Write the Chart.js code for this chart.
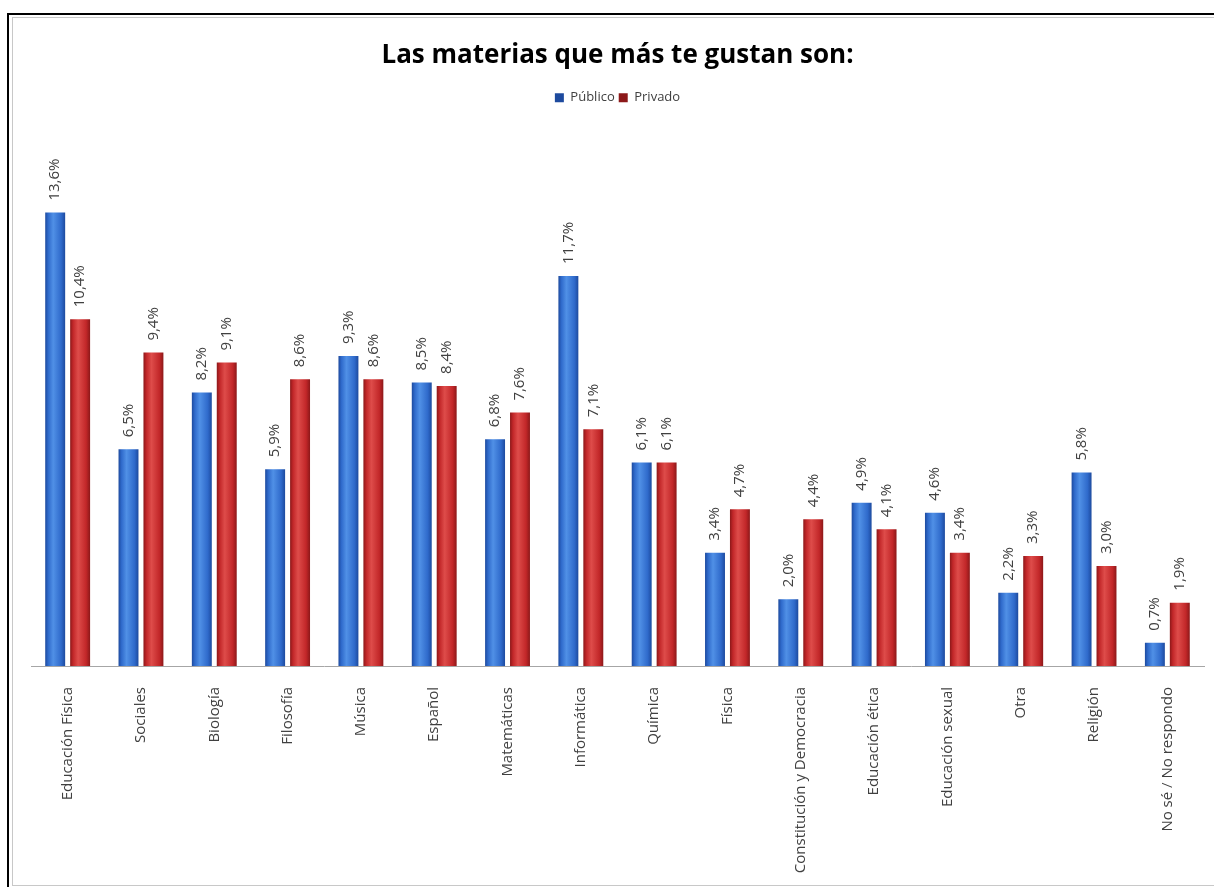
<!DOCTYPE html>
<html>
<head>
<meta charset="utf-8">
<script src="https://cdn.jsdelivr.net/npm/chart.js@4.4.0/dist/chart.umd.min.js"></script>
<style>
html, body { margin: 0; padding: 0; background: #fff; }
#wrap { position: relative; width: 1214px; height: 887px; overflow: hidden; }
#marco { position: absolute; left: 7px; top: 13px; width: 1300px; height: 1000px; border-left: 2px solid #000; border-top: 2px solid #000; }
#interior { position: absolute; left: 12px; top: 17px; width: 1300px; height: 867px; border: 1px solid #c8c8c8; }
canvas { position: absolute; left: 0; top: 0; }
</style>
</head>
<body>
<div id="wrap">
  <div id="marco"></div>
  <div id="interior"></div>
  <canvas id="materiasChart" width="1214" height="887"></canvas>
</div>
<script>
// Datos del gráfico
const categorias = ['Educación Física', 'Sociales', 'Biología', 'Filosofía', 'Música', 'Español',
    'Matemáticas', 'Informática', 'Química', 'Física', 'Constitución y Democracia',
    'Educación ética', 'Educación sexual', 'Otra', 'Religión', 'No sé / No respondo'];
const publico = [13.6, 6.5, 8.2, 5.9, 9.3, 8.5, 6.8, 11.7, 6.1, 3.4, 2.0, 4.9, 4.6, 2.2, 5.8, 0.7];
const privado = [10.4, 9.4, 9.1, 8.6, 8.6, 8.4, 7.6, 7.1, 6.1, 4.7, 4.4, 4.1, 3.4, 3.3, 3.0, 1.9];

const CAT_PCT = 0.68;
const BAR_PCT = 0.8;

// Degradado horizontal para dar efecto cilíndrico a cada barra
function degradado(oscuro, medio, claro, lado) {
    return (c) => {
        const x = c.chart.scales.x;
        if (!x || !c.chart.chartArea) return medio;
        const cat = x.width / categorias.length;
        const slot = cat * CAT_PCT / 2;
        const w = slot * BAR_PCT;
        const cx = x.getPixelForValue(c.dataIndex) + lado * slot / 2;
        const g = c.chart.ctx.createLinearGradient(cx - w / 2, 0, cx + w / 2, 0);
        g.addColorStop(0, oscuro);
        g.addColorStop(0.15, medio);
        g.addColorStop(0.4, claro);
        g.addColorStop(0.8, medio);
        g.addColorStop(1, oscuro);
        return g;
    };
}

// Etiquetas de porcentaje verticales sobre las barras
const etiquetasBarras = {
    id: 'etiquetasBarras',
    afterDatasetsDraw(chart) {
        const ctx = chart.ctx;
        ctx.save();
        ctx.font = '15px "Open Sans"';
        ctx.fillStyle = '#404040';
        ctx.textAlign = 'left';
        ctx.textBaseline = 'middle';
        chart.data.datasets.forEach((ds, i) => {
            chart.getDatasetMeta(i).data.forEach((bar, j) => {
                ctx.save();
                ctx.translate(bar.x, bar.y - 12);
                ctx.rotate(-Math.PI / 2);
                ctx.fillText(ds.data[j].toFixed(1).replace('.', ',') + '%', 0, 0);
                ctx.restore();
            });
        });
        ctx.restore();
    }
};

const ctx = document.getElementById('materiasChart').getContext('2d');
const materiasChart = new Chart(ctx, {
    type: 'bar',
    data: {
        labels: categorias,
        datasets: [
            {
                label: 'Público',
                data: publico,
                backgroundColor: degradado('#1d4a9e', '#2f6acb', '#5090e6', -1),
                borderWidth: 0,
                categoryPercentage: CAT_PCT,
                barPercentage: BAR_PCT
            },
            {
                label: 'Privado',
                data: privado,
                backgroundColor: degradado('#8c1819', '#c22729', '#de4c4a', 1),
                borderWidth: 0,
                categoryPercentage: CAT_PCT,
                barPercentage: BAR_PCT
            }
        ]
    },
    options: {
        responsive: false,
        animation: false,
        layout: {
            padding: { left: 31, right: 10, top: 0, bottom: 0 }
        },
        scales: {
            x: {
                grid: { display: true, drawOnChartArea: false, drawTicks: false },
                border: { display: true, color: '#a6a6a6', width: 1 },
                ticks: {
                    minRotation: 90,
                    maxRotation: 90,
                    autoSkip: false,
                    padding: 21,
                    color: '#404040',
                    font: { family: 'Open Sans', size: 15 }
                },
                afterFit: (scale) => { scale.height = 221; }
            },
            y: {
                display: false,
                min: 0,
                max: 16.55
            }
        },
        plugins: {
            title: {
                display: true,
                text: 'Las materias que más te gustan son:',
                color: '#000',
                font: { family: 'Open Sans', size: 26, weight: 'bold' },
                padding: { top: 40, bottom: 16 }
            },
            legend: {
                display: true,
                position: 'top',
                labels: {
                    boxWidth: 9,
                    boxHeight: 9,
                    padding: 4,
                    color: '#404040',
                    font: { family: 'Open Sans', size: 13 }
                }
            },
            tooltip: { enabled: false }
        }
    },
    plugins: [etiquetasBarras]
});
</script>
</body>
</html>
